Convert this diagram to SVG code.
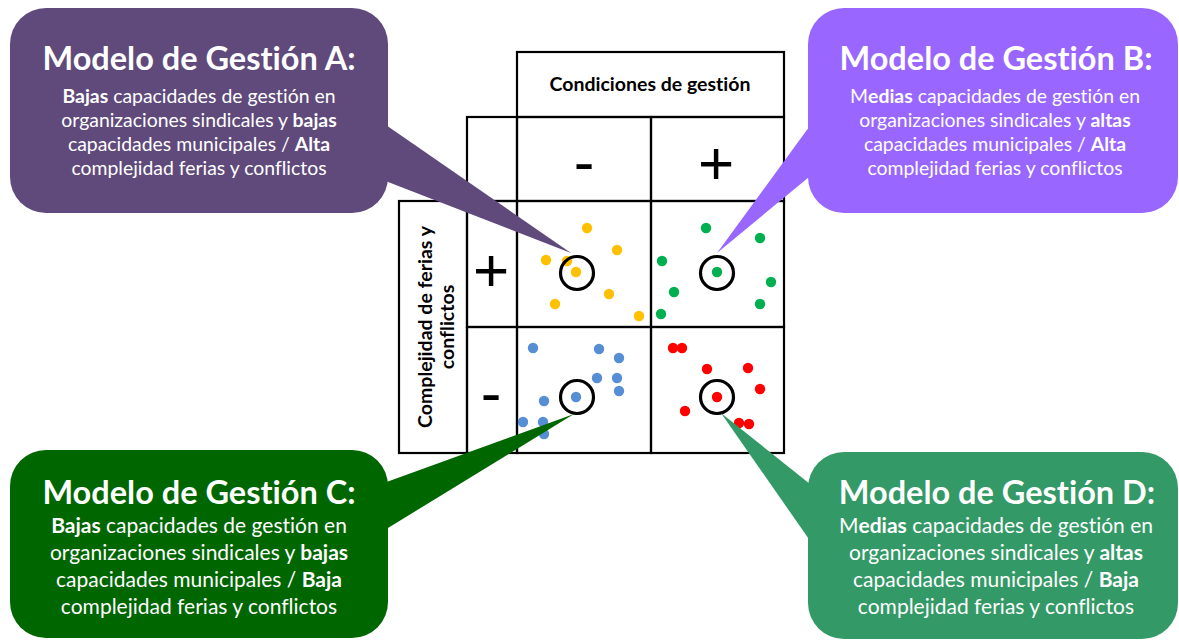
<svg xmlns="http://www.w3.org/2000/svg" width="1179" height="641" viewBox="0 0 1179 641">
<style>
text{font-variant-ligatures:none;font-feature-settings:"liga" 0}
.bg{fill:#ffffff}
.grid{fill:none;stroke:#000;stroke-width:2.2}
.ring{fill:none;stroke:#000;stroke-width:3.2}
.title{font-family:Lato,"Open Sans",sans-serif;font-weight:bold;font-size:32.5px;fill:#fff;text-anchor:middle}
.body{font-family:Lato,"Open Sans",sans-serif;font-size:19.4px;fill:#fff;text-anchor:middle}
.bodyL{font-family:Lato,"Open Sans",sans-serif;font-size:21px;fill:#fff;text-anchor:middle}
.b{font-weight:bold}
.hdr{font-family:Lato,"Open Sans",sans-serif;font-weight:bold;font-size:19.5px;fill:#000;text-anchor:middle}
.sign{font-family:"Liberation Sans",Arial,sans-serif;font-size:62px;fill:#000;text-anchor:middle}
.pA{fill:#604A7B}.pB{fill:#9966FF}.pC{fill:#006600}.pD{fill:#339966}
.y{fill:#FFC000}.g{fill:#00B050}.bl{fill:#558ED5}.r{fill:#FF0000}
</style>
<rect class="bg" x="0" y="0" width="1179" height="641"/>

<g id="grid">
  <rect class="grid" x="517" y="52" width="267" height="65"/>
  <rect class="grid" x="467" y="117" width="50" height="84"/>
  <rect class="grid" x="517" y="117" width="134" height="84"/>
  <rect class="grid" x="651" y="117" width="133" height="84"/>
  <rect class="grid" x="399" y="201" width="68" height="252"/>
  <rect class="grid" x="467" y="201" width="50" height="126"/>
  <rect class="grid" x="467" y="327" width="50" height="126"/>
  <rect class="grid" x="517" y="201" width="134" height="126"/>
  <rect class="grid" x="651" y="201" width="133" height="126"/>
  <rect class="grid" x="517" y="327" width="134" height="126"/>
  <rect class="grid" x="651" y="327" width="133" height="126"/>
  <text class="hdr" x="650" y="91">Condiciones de gestión</text>
  <text class="sign" x="584" y="183">-</text>
  <text class="sign" x="716" y="184">+</text>
  <text class="sign" x="491" y="291">+</text>
  <text class="sign" x="491" y="414">-</text>
  <g transform="translate(432 327) rotate(-90)">
    <text class="hdr" x="0" y="0">Complejidad de ferias y</text>
    <text class="hdr" x="0" y="22">conflictos</text>
  </g>
</g>

<g id="dots">
  <g id="dotsA">
    <circle class="y" cx="587" cy="228" r="5.2"/>
    <circle class="y" cx="617" cy="250" r="5.2"/>
    <circle class="y" cx="546" cy="260" r="5.2"/>
    <circle class="y" cx="567" cy="261" r="5.2"/>
    <circle class="y" cx="576" cy="272" r="5.2"/>
    <circle class="y" cx="609" cy="294" r="5.2"/>
    <circle class="y" cx="555" cy="304" r="5.2"/>
    <circle class="y" cx="639" cy="316" r="5.2"/>
  </g>
  <g id="dotsB">
    <circle class="g" cx="706" cy="228" r="5.2"/>
    <circle class="g" cx="760" cy="238" r="5.2"/>
    <circle class="g" cx="662" cy="261" r="5.2"/>
    <circle class="g" cx="717" cy="272" r="5.2"/>
    <circle class="g" cx="771" cy="282" r="5.2"/>
    <circle class="g" cx="674" cy="292" r="5.2"/>
    <circle class="g" cx="760" cy="304" r="5.2"/>
    <circle class="g" cx="661" cy="314" r="5.2"/>
  </g>
  <g id="dotsC">
    <circle class="bl" cx="533" cy="348" r="5.2"/>
    <circle class="bl" cx="599" cy="349" r="5.2"/>
    <circle class="bl" cx="619" cy="358" r="5.2"/>
    <circle class="bl" cx="597" cy="378" r="5.2"/>
    <circle class="bl" cx="617" cy="378" r="5.2"/>
    <circle class="bl" cx="619" cy="391" r="5.2"/>
    <circle class="bl" cx="544" cy="401" r="5.2"/>
    <circle class="bl" cx="576" cy="397" r="5.2"/>
    <circle class="bl" cx="523" cy="422" r="5.2"/>
    <circle class="bl" cx="543" cy="422" r="5.2"/>
    <circle class="bl" cx="544" cy="434" r="5.2"/>
  </g>
  <g id="dotsD">
    <circle class="r" cx="673" cy="348" r="5.2"/>
    <circle class="r" cx="682" cy="348" r="5.2"/>
    <circle class="r" cx="707" cy="369" r="5.2"/>
    <circle class="r" cx="748" cy="368" r="5.2"/>
    <circle class="r" cx="760" cy="389" r="5.2"/>
    <circle class="r" cx="717" cy="397" r="5.2"/>
    <circle class="r" cx="685" cy="411" r="5.2"/>
    <circle class="r" cx="739" cy="423" r="5.2"/>
    <circle class="r" cx="749" cy="424" r="5.2"/>
  </g>
  <circle class="ring" cx="577" cy="273" r="16.5"/>
  <circle class="ring" cx="717" cy="273" r="16.5"/>
  <circle class="ring" cx="577" cy="397" r="16.5"/>
  <circle class="ring" cx="717" cy="397" r="16.5"/>
</g>

<g id="connectors">
  <polygon class="pA" points="370,114 571,253 370,175"/>
  <polygon class="pB" points="820,112 717,253 820,168"/>
  <polygon class="pC" points="370,488 574,414 370,539"/>
  <polygon class="pD" points="820,492 721,413 820,555"/>
</g>

<g id="modeloA">
  <rect class="pA" x="10" y="8" width="378" height="205" rx="36"/>
  <text class="title" x="199" y="70">Modelo de Gestión A:</text>
  <text class="body" x="199" y="103"><tspan class="b">Bajas</tspan> capacidades de gestión en</text>
  <text class="body" x="199" y="127">organizaciones sindicales y <tspan class="b">bajas</tspan></text>
  <text class="body" x="199" y="151">capacidades municipales / <tspan class="b">Alta</tspan></text>
  <text class="body" x="199" y="175">complejidad ferias y conflictos</text>
</g>

<g id="modeloB">
  <rect class="pB" x="808" y="8" width="370" height="205" rx="36"/>
  <text class="title" x="996" y="70">Modelo de Gestión B:</text>
  <text class="body" x="995" y="103">M<tspan class="b">edias</tspan> capacidades de gestión en</text>
  <text class="body" x="995" y="127">organizaciones sindicales y <tspan class="b">altas</tspan></text>
  <text class="body" x="995" y="151">capacidades municipales / <tspan class="b">Alta</tspan></text>
  <text class="body" x="995" y="175">complejidad ferias y conflictos</text>
</g>

<g id="modeloC">
  <rect class="pC" x="10" y="450" width="378" height="188" rx="36"/>
  <text class="title" x="199" y="504">Modelo de Gestión C:</text>
  <text class="bodyL" x="199" y="533"><tspan class="b">Bajas</tspan> capacidades de gestión en</text>
  <text class="bodyL" x="199" y="560">organizaciones sindicales y <tspan class="b">bajas</tspan></text>
  <text class="bodyL" x="199" y="587">capacidades municipales / <tspan class="b">Baja</tspan></text>
  <text class="bodyL" x="199" y="614">complejidad ferias y conflictos</text>
</g>

<g id="modeloD">
  <rect class="pD" x="808" y="452" width="370" height="187" rx="36"/>
  <text class="title" x="997" y="504">Modelo de Gestión D:</text>
  <text class="bodyL" x="996" y="533">M<tspan class="b">edias</tspan> capacidades de gestión en</text>
  <text class="bodyL" x="996" y="560">organizaciones sindicales y <tspan class="b">altas</tspan></text>
  <text class="bodyL" x="996" y="587">capacidades municipales / <tspan class="b">Baja</tspan></text>
  <text class="bodyL" x="996" y="614">complejidad ferias y conflictos</text>
</g>
</svg>
